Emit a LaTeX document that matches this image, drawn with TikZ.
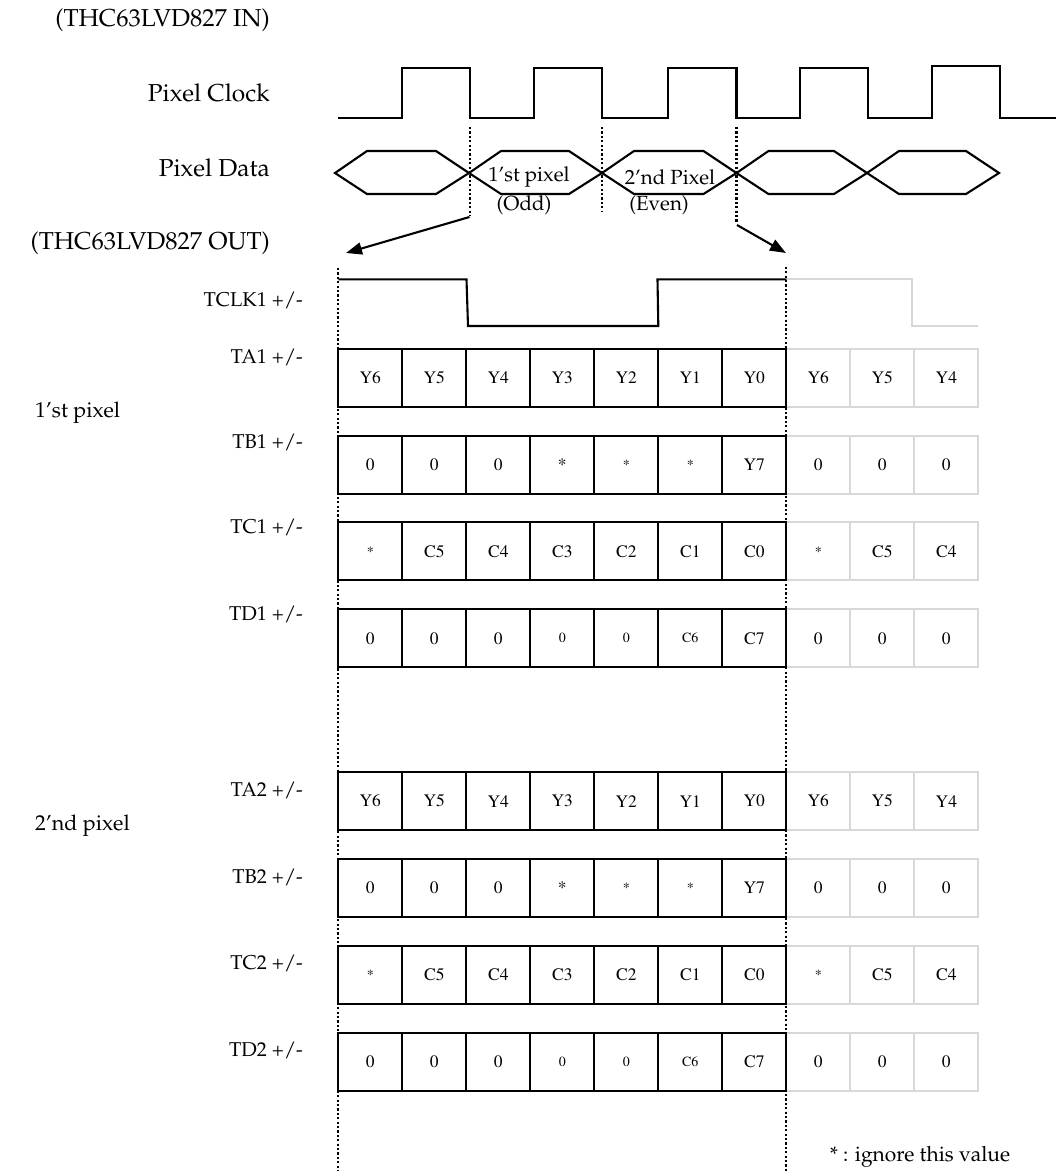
\documentclass[tikz,border=0pt]{standalone}
\usepackage[T1]{fontenc}
\usepackage{mathpazo}
\usetikzlibrary{arrows.meta}
\definecolor{lgray}{RGB}{216,216,216}
\newcommand\smtxt{\fontsize{14}{16}\selectfont}
\newcommand\mkrow[4]{%
  \foreach \t [count=\i] in {#4} \node[gcell] (#1-g\i) at ({338.3+64*(\i+6.5)},#2) {\t};
  \foreach \t [count=\i] in {#3} \node[bcell] (#1-\i) at ({338.3+64*(\i-0.5)},#2) {\t};
}
\begin{document}
\begin{tikzpicture}[x=1pt,y=-1pt,
  hdr/.style={font=\fontsize{24.5}{28}\selectfont, inner sep=0, anchor=east},
  sig/.style={font=\fontsize{20}{24}\selectfont, inner sep=0, anchor=east},
  grp/.style={font=\fontsize{21.5}{24}\selectfont, inner sep=0, anchor=west},
  hx/.style={font=\fontsize{20.5}{24}\selectfont, inner sep=0},
  wave/.style={line width=2.1, line join=miter},
  dots/.style={line width=2.2, dash pattern=on 2.2pt off 2.2pt},
  arr/.style={line width=2.1, -{Triangle[length=16pt,width=12pt]}},
  bcell/.style={draw=black, line width=2, minimum width=64, minimum height=58,
     inner sep=0, outer sep=0, font=\fontfamily{ptm}\fontsize{17.5}{20}\selectfont},
  gcell/.style={bcell, draw=lgray}]
\fill[white] (0,0) rectangle (1056,1171);
\useasboundingbox (0,0) rectangle (1056,1171);

% headers
\node[hdr] (in) at (270,20) {(THC63LVD827 IN)};
\node[hdr] (pc) at (270,93) {Pixel Clock};
\node[hdr] (pd) at (270,168) {Pixel Data};
\node[hdr] (out) at (270,243) {(THC63LVD827 OUT)};

% pixel clock
\draw[wave] (338,118) -- (402,118) |- (470,68) |- (534,118) |- (602,68) |- (668,118)
  |- (736.5,68) |- (800,118) |- (868,68) |- (932,118) |- (1000,66) |- (1056,118);

% pixel data
\foreach \a/\b in {335/469, 469/602, 602/736.5, 736.5/867, 867/999}
  \draw[wave] (\a,173) -- ({\a+32},151) -- ({\b-33},151) -- (\b,173) -- ({\b-33},194) -- ({\a+32},194) -- cycle;
\node[hx] (p1) at (529,177) {1'st pixel};
\node[hx] (p1b) at (524,205) {(Odd)};
\node[hx] (p2) at (670,177) {2'nd Pixel};
\node[hx] (p2b) at (659,205) {(Even)};

% dotted markers and arrows
\draw[dots] (470,127) -- (470,216);
\draw[dots] (602,127) -- (602,212);
\draw[dots] (736.5,127) -- (736.5,223);
\coordinate (la0) at (469.5,217);
\coordinate (la1) at (346,253);
\coordinate (ra0) at (737,225);
\coordinate (ra1) at (786,253);
\draw[arr] (la0) -- (la1);
\draw[arr] (ra0) -- (ra1);

% long dotted lines
\coordinate (dl0) at (338.3,268);
\coordinate (dl1) at (338.3,1171);
\coordinate (dr0) at (786.3,266.7);
\coordinate (dr1) at (786.3,1171);
\draw[dots] (dl0) -- (dl1);
\draw[dots] (dr0) -- (dr1);

% TCLK1
\draw[wave, lgray] (786.3,279.3) -- (912.3,279.3) -- (912.3,326) -- (978.3,326);
\draw[wave] (338.3,279.3) -- (466.5,279.3) -- (468,326) -- (658.3,326) -- (657.5,279.3) -- (786.3,279.3);

% signal labels
\node[sig] (ltclk) at (303,300) {TCLK1 +/-};
\node[sig] (lta1) at (303,357) {TA1 +/-};
\node[sig] (ltb1) at (303,442) {TB1 +/-};
\node[sig] (ltc1) at (303,527) {TC1 +/-};
\node[sig] (ltd1) at (303,614) {TD1 +/-};
\node[sig] (lta2) at (303,790) {TA2 +/-};
\node[sig] (ltb2) at (303,877) {TB2 +/-};
\node[sig] (ltc2) at (303,963) {TC2 +/-};
\node[sig] (ltd2) at (303,1050) {TD2 +/-};
\node[grp] (g1) at (35,413) {1'st pixel};
\node[grp] (g2) at (35,826) {2'nd pixel};

% data rows
\mkrow{a1}{377.7}{Y6,Y5,Y4,Y3,Y2,Y1,Y0}{Y6,Y5,Y4}
\mkrow{b1}{464.6}{0,0,0,*,{\smtxt *},{\smtxt *},Y7}{0,0,0}
\mkrow{c1}{551.4}{{\smtxt *},C5,C4,C3,C2,C1,C0}{{\smtxt *},C5,C4}
\mkrow{d1}{638.3}{0,0,0,{\smtxt 0},{\smtxt 0},{\smtxt C6},C7}{0,0,0}
\mkrow{a2}{801.1}{Y6,Y5,Y4,Y3,Y2,Y1,Y0}{Y6,Y5,Y4}
\mkrow{b2}{888}{0,0,0,*,{\smtxt *},{\smtxt *},Y7}{0,0,0}
\mkrow{c2}{974.8}{{\smtxt *},C5,C4,C3,C2,C1,C0}{{\smtxt *},C5,C4}
\mkrow{d2}{1061.7}{0,0,0,{\smtxt 0},{\smtxt 0},{\smtxt C6},C7}{0,0,0}

% note
\node[hx, font=\fontsize{21}{24}\selectfont] (note) at (920,1157) {* : ignore this value};
\end{tikzpicture}
\end{document}
